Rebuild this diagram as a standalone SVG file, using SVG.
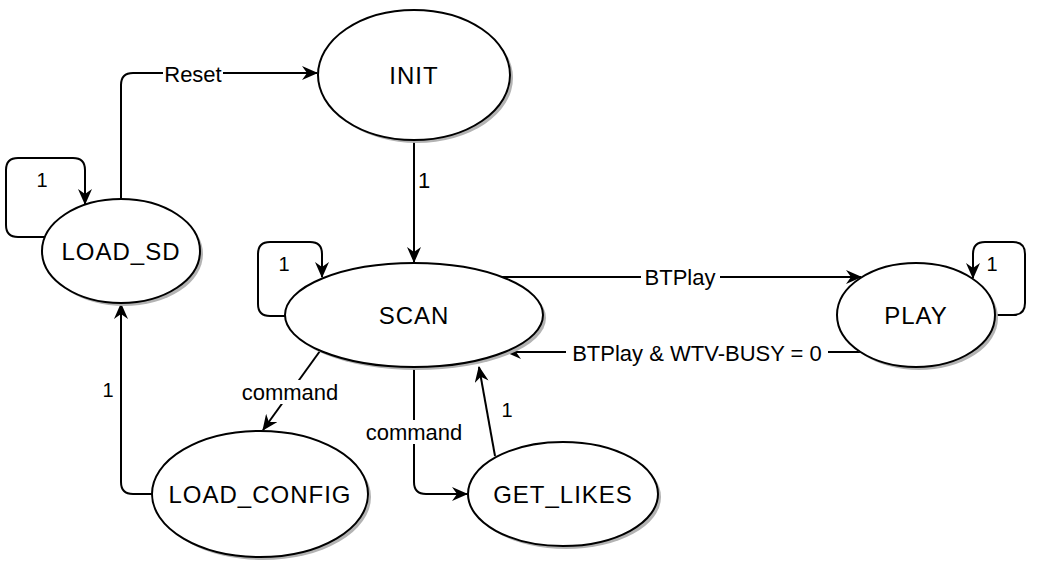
<svg xmlns="http://www.w3.org/2000/svg" width="1037" height="571" viewBox="0 0 1037 571">
<defs>
<style>
.shadow{fill:#b3b3b3;stroke:none}
.node{fill:#ffffff;stroke:#000000;stroke-width:2}
.nlabel{font-family:"Liberation Sans",Arial,sans-serif;font-size:24px;letter-spacing:1px;fill:#000;text-anchor:middle;dominant-baseline:central}
.edge{fill:none;stroke:#000000;stroke-width:2;marker-end:url(#arr)}
.elabel{font-family:"Liberation Sans",Arial,sans-serif;font-size:22px;fill:#000;text-anchor:middle;dominant-baseline:central}
.slabel{font-family:"Liberation Sans",Arial,sans-serif;font-size:20px;fill:#000;text-anchor:middle;dominant-baseline:central}
.bg{fill:#ffffff}
</style>
<marker id="arr" viewBox="0 0 16 14" refX="15" refY="7" markerWidth="16" markerHeight="14" orient="auto" markerUnits="userSpaceOnUse">
<path d="M0,0 L16,7 L0,14 L5,7 z" fill="#000"/>
</marker>
</defs>
<rect width="1037" height="571" fill="#ffffff"/>
<g id="connectors">
<path class="edge" d="M121,199 V85 Q121,73 133,73 H317"/>
<rect class="bg" x="163" y="62" width="60" height="24"/>
<text class="elabel" x="193" y="74">Reset</text>
<path class="edge" d="M45,237 H18 Q6,237 6,225 V170 Q6,158 18,158 H73 Q85,158 85,170 V204"/>
<text class="slabel" x="42" y="180">1</text>
<path class="edge" d="M414,140 V262"/>
<rect class="bg" x="416" y="168" width="16" height="24"/>
<text class="elabel" x="424" y="180">1</text>
<path class="edge" d="M285,316 H270 Q258,316 258,304 V254 Q258,242 270,242 H310 Q322,242 322,254 V277"/>
<text class="slabel" x="284" y="264">1</text>
<path class="edge" d="M502,277 H861"/>
<rect class="bg" x="641" y="265" width="79" height="24"/>
<text class="elabel" x="680" y="277">BTPlay</text>
<path class="edge" d="M860,352 H506"/>
<rect class="bg" x="566" y="340" width="262" height="24"/>
<text class="elabel" x="697" y="353">BTPlay &amp; WTV-BUSY = 0</text>
<path class="edge" d="M995,315 H1013 Q1025,315 1025,303 V254 Q1025,242 1013,242 H985 Q973,242 973,254 V278"/>
<text class="slabel" x="992" y="264">1</text>
<path class="edge" d="M320,351 L263,430"/>
<rect class="bg" x="240" y="380" width="100" height="24"/>
<text class="elabel" x="290" y="392">command</text>
<path class="edge" d="M414,367 V482 Q414,494 426,494 H467"/>
<rect class="bg" x="364" y="420" width="100" height="24"/>
<text class="elabel" x="414" y="432">command</text>
<path class="edge" d="M495,456 L479,367"/>
<text class="slabel" x="507" y="410">1</text>
<path class="edge" d="M152,494 H133 Q121,494 121,482 V304"/>
<rect class="bg" x="100" y="378" width="16" height="24"/>
<text class="slabel" x="108" y="390">1</text>
</g>
<g id="INIT">
<ellipse class="shadow" cx="417" cy="78" rx="96" ry="65"/>
<ellipse class="node" cx="414" cy="75" rx="96" ry="65"/>
<text class="nlabel" x="414" y="75">INIT</text>
</g>
<g id="LOAD_SD">
<ellipse class="shadow" cx="124" cy="254" rx="79" ry="52"/>
<ellipse class="node" cx="121" cy="251" rx="79" ry="52"/>
<text class="nlabel" x="121" y="251">LOAD_SD</text>
</g>
<g id="SCAN">
<ellipse class="shadow" cx="417" cy="318" rx="129" ry="52"/>
<ellipse class="node" cx="414" cy="315" rx="129" ry="52"/>
<text class="nlabel" x="414" y="315">SCAN</text>
</g>
<g id="PLAY">
<ellipse class="shadow" cx="919" cy="318" rx="79" ry="52"/>
<ellipse class="node" cx="916" cy="315" rx="79" ry="52"/>
<text class="nlabel" x="916" y="315">PLAY</text>
</g>
<g id="LOAD_CONFIG">
<ellipse class="shadow" cx="263" cy="497" rx="108" ry="63"/>
<ellipse class="node" cx="260" cy="494" rx="108" ry="63"/>
<text class="nlabel" x="260" y="494">LOAD_CONFIG</text>
</g>
<g id="GET_LIKES">
<ellipse class="shadow" cx="566" cy="497" rx="95" ry="52"/>
<ellipse class="node" cx="563" cy="494" rx="95" ry="52"/>
<text class="nlabel" x="563" y="494">GET_LIKES</text>
</g>
</svg>
